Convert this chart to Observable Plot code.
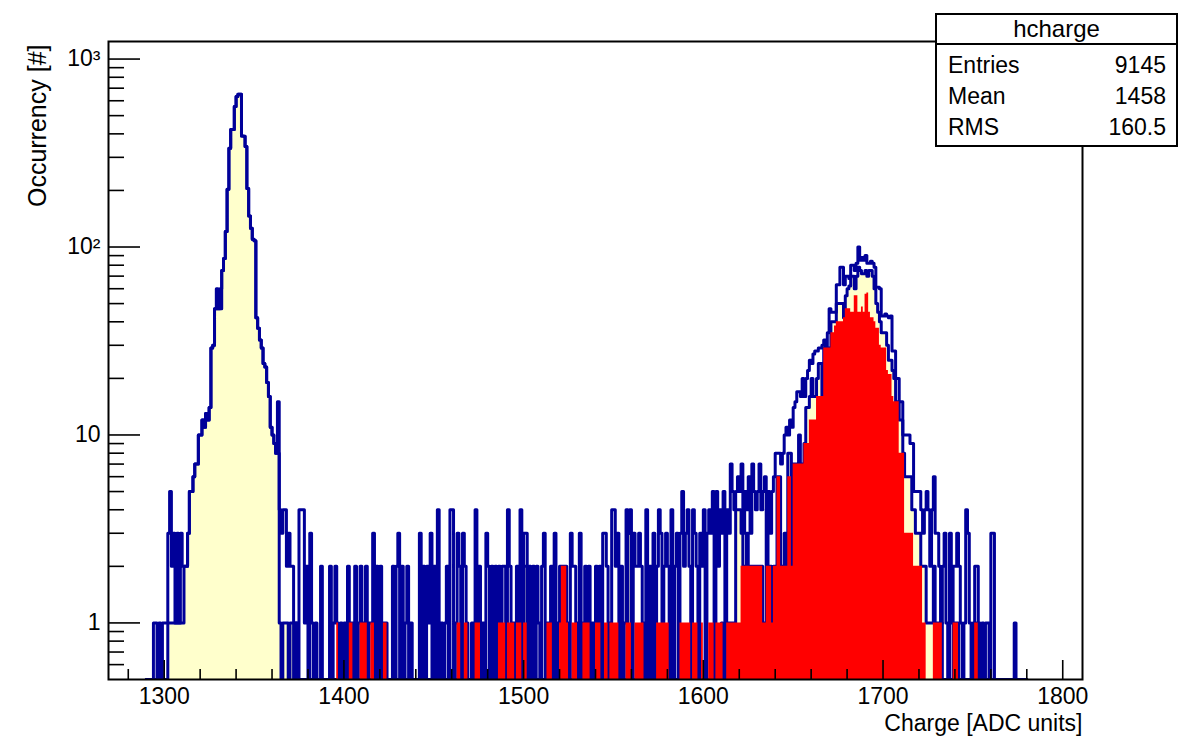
<!DOCTYPE html>
<html>
<head>
<meta charset="utf-8">
<script src="https://cdn.jsdelivr.net/npm/d3@7"></script>
<script src="https://cdn.jsdelivr.net/npm/@observablehq/plot@0.6"></script>
<style>
  html, body { margin: 0; padding: 0; background: #fff; }
  #wrap { position: relative; width: 1187px; height: 736px; overflow: hidden;
          font-family: "Liberation Sans", Arial, sans-serif; color: #000; }
  #stats { position: absolute; left: 935px; top: 13px; width: 243px; height: 134px;
           box-sizing: border-box; border: 2px solid #000; background: #fff; }
  #stats .hd { height: 28px; line-height: 28px; text-align: center; font-size: 24px;
               border-bottom: 2px solid #000; }
  #stats .rows { padding-top: 5px; }
  #stats .row { display: flex; justify-content: space-between; height: 31px; line-height: 31px;
                padding: 0 10px 0 11px; font-size: 23px; }
</style>
</head>
<body>
<div id="wrap">
  <div id="chart"></div>
  <div id="stats"></div>
</div>
<script>
// ---------------- data (1 ADC-unit bins, first bin starts at binStart) ----------------
const binStart = 1290;

// all events (blue outline, no fill)
const totalCounts = [
  0,0,0,0,1,1,0,1,0,1,            // 1290
  1,1,3,5,2,3,1,3,1,3,            // 1300
  2,2,2,3,5,5,6,7,7,10,           // 1310
  10,12,11,13,12,14,29,30,47,60,  // 1320
  47,60,75,87,121,203,335,422,422,560, // 1330
  632,650,650,390,388,343,205,146,126,110, // 1340
  108,42,37,32,29,24,23,19,16,11, // 1350
  10,9,8,15,4,3,4,4,2,3,          // 1360
  2,2,1,1,0,4,4,4,1,2,            // 1370
  0,3,1,0,1,0,0,2,0,0,            // 1380
  0,0,2,0,1,2,1,0,1,0,            // 1390
  1,0,2,1,1,0,2,0,1,2,            // 1400
  1,1,2,0,1,1,3,0,2,0,            // 1410
  2,0,1,1,0,0,0,2,0,2,            // 1420
  3,0,2,0,1,2,0,1,0,0,            // 1430
  0,0,3,0,2,0,2,1,3,0,            // 1440
  2,0,4,0,1,0,1,2,0,4,            // 1450
  4,0,1,3,2,0,3,2,1,0,            // 1460
  0,1,0,4,1,2,0,1,0,3,            // 1470
  2,0,2,0,2,0,2,1,2,2,            // 1480
  0,4,2,1,1,0,2,1,4,0,            // 1490
  3,3,0,2,0,2,0,2,1,0,            // 1500
  2,3,0,1,1,2,0,3,0,1,            // 1510
  2,2,2,2,1,0,3,2,2,1,            // 1520
  0,3,0,1,2,1,2,0,1,0,            // 1530
  2,1,2,0,3,3,2,0,1,4,            // 1540
  4,2,3,0,2,0,1,4,3,4,            // 1550
  0,3,2,2,3,2,1,0,4,0,            // 1560
  2,0,3,0,2,4,3,1,2,3,            // 1570
  2,0,4,0,2,3,0,3,5,2,            // 1580
  3,4,2,0,4,3,2,0,3,2,            // 1590
  4,0,3,4,3,5,0,5,2,4,            // 1600
  3,5,0,4,3,7,5,4,5,6,            // 1610
  5,7,3,5,4,6,3,7,5,4,            // 1620
  5,7,4,5,6,4,5,3,5,6,            // 1630
  8,8,8,7,8,10,11,10,12,11,       // 1640
  14,15,17,17,16,20,16,20,22,25,  // 1650
  24,27,28,28,29,29,30,32,29,35,  // 1660
  47,45,45,45,63,63,78,78,63,70,  // 1670
  70,68,80,80,75,82,100,85,88,85, // 1680
  90,82,82,84,82,78,61,61,60,43,  // 1690
  43,44,43,42,43,28,28,20,20,15,  // 1700
  15,10,10,10,10,9,9,5,5,5,       // 1710
  5,4,3,4,5,4,2,4,6,3,            // 1720
  3,2,1,2,3,1,0,3,1,2,            // 1730
  2,3,2,1,0,1,4,3,1,0,            // 1740
  1,2,2,1,0,1,0,1,1,0,            // 1750
  3,3,0,0,0,0,0,0,0,0,            // 1760
  0,0,0,1,0,0,0,0,0,0             // 1770
];

// yellow-filled selection
const yellowCounts = [
  0,0,0,0,0,0,0,0,0,0,            // 1290
  0,0,1,1,1,1,1,1,1,1,            // 1300
  1,2,2,3,5,5,6,7,7,10,           // 1310
  10,12,11,13,12,14,29,30,47,47,  // 1320
  47,47,75,87,121,203,335,422,422,560, // 1330
  632,650,650,390,388,343,205,146,126,110, // 1340
  108,42,37,32,29,24,23,19,16,11, // 1350
  10,9,8,8,1,0,1,1,1,0,           // 1360
  1,1,0,1,0,0,0,0,0,0,            // 1370
  0,0,0,0,0,0,0,0,0,0,            // 1380
  0,0,0,0,0,0,0,0,0,0,            // 1390
  0,0,0,0,0,0,0,0,0,0,            // 1400
  0,0,0,0,0,0,0,0,0,0,            // 1410
  0,0,0,0,0,0,0,0,0,0,            // 1420
  0,0,0,0,0,0,0,0,0,0,            // 1430
  0,0,0,0,0,0,0,0,0,0,            // 1440
  0,0,0,0,0,0,0,0,0,0,            // 1450
  0,0,0,0,0,0,0,0,0,0,            // 1460
  0,0,0,0,0,0,0,0,0,0,            // 1470
  0,0,0,0,0,0,0,0,0,0,            // 1480
  0,0,0,0,0,0,0,0,0,0,            // 1490
  2,2,0,0,0,0,0,0,0,0,            // 1500
  0,0,0,0,0,0,0,0,0,0,            // 1510
  0,0,0,0,0,0,0,0,0,0,            // 1520
  0,0,0,0,0,0,0,0,0,0,            // 1530
  0,0,0,0,0,0,0,0,0,0,            // 1540
  0,0,0,0,0,0,0,0,3,3,            // 1550
  0,0,0,0,0,0,0,0,0,0,            // 1560
  0,0,0,0,0,0,0,0,0,0,            // 1570
  0,0,0,0,0,0,0,0,0,0,            // 1580
  0,0,0,0,0,0,0,0,0,0,            // 1590
  0,0,0,0,0,0,0,0,0,0,            // 1600
  1,0,0,1,1,1,1,1,4,4,            // 1610
  4,3,2,2,3,2,2,2,2,2,            // 1620
  2,2,2,1,1,4,2,2,1,2,            // 1630
  2,6,6,2,2,3,2,8,8,2,            // 1640
  7,7,7,10,7,7,9,14,14,16,        // 1650
  20,16,16,20,24,24,16,29,29,29,  // 1660
  29,40,40,40,50,50,50,50,42,55,  // 1670
  60,62,70,70,60,70,78,75,72,72,  // 1680
  75,70,75,75,70,60,50,45,40,35,  // 1690
  35,35,30,25,25,22,20,15,15,12,  // 1700
  12,8,6,6,6,6,4,4,3,3,           // 1710
  3,2,2,2,1,1,1,1,2,1,            // 1720
  1,1,1,0,0,0,0,0,0,1,            // 1730
  1,1,0,0,0,0,0,0,0,0,            // 1740
  0,1,1,0,0,0,0,0,0,0,            // 1750
  0,0,0,0,0,0,0,0,0,0,            // 1760
  0,0,0,0,0,0,0,0,0,0             // 1770
];

// red-filled selection
const redCounts = [
  0,0,0,0,0,0,0,0,0,0,            // 1290
  0,0,0,0,0,0,0,0,0,0,            // 1300
  0,0,0,0,0,0,0,0,0,0,            // 1310
  0,0,0,0,0,0,0,0,0,0,            // 1320
  0,0,0,0,0,0,0,0,0,0,            // 1330
  0,0,0,0,0,0,0,0,0,0,            // 1340
  0,0,0,0,0,0,0,0,0,0,            // 1350
  0,0,0,0,0,0,0,0,0,0,            // 1360
  0,0,0,0,0,0,0,0,0,0,            // 1370
  0,0,0,0,0,0,0,0,0,0,            // 1380
  0,0,0,0,0,0,1,0,0,0,            // 1390
  0,0,0,1,1,0,0,0,0,1,            // 1400
  1,1,1,0,0,1,1,0,0,0,            // 1410
  0,0,1,1,0,0,0,0,0,0,            // 1420
  0,0,0,0,0,0,0,0,0,0,            // 1430
  0,0,0,0,0,0,0,0,0,0,            // 1440
  0,0,0,0,0,0,0,0,0,0,            // 1450
  0,0,0,1,1,0,0,1,1,0,            // 1460
  0,0,0,1,1,1,0,0,0,0,            // 1470
  0,0,0,0,0,0,1,1,1,1,            // 1480
  0,1,1,1,1,0,1,1,1,0,            // 1490
  1,1,0,0,0,0,0,0,0,0,            // 1500
  0,0,0,1,1,1,0,0,0,0,            // 1510
  1,2,2,2,1,0,0,1,1,1,            // 1520
  0,0,0,1,1,1,1,0,0,0,            // 1530
  1,1,1,0,0,1,1,0,1,1,            // 1540
  1,1,1,0,0,0,0,1,1,1,            // 1550
  0,0,1,1,1,1,1,0,0,0,            // 1560
  0,0,0,0,1,1,1,1,1,1,            // 1570
  1,0,0,0,0,0,0,1,1,1,            // 1580
  1,1,1,0,1,1,1,0,0,1,            // 1590
  0,0,0,1,1,1,0,1,1,1,            // 1600
  1,0,0,1,1,1,1,1,1,1,            // 1610
  1,2,2,2,2,2,2,2,2,2,            // 1620
  2,2,2,1,1,2,2,2,1,2,            // 1630
  2,6,6,2,2,2,2,6,6,2,            // 1640
  7,7,7,7,7,7,9,9,9,12,           // 1650
  12,12,12,16,16,16,16,29,29,29,  // 1660
  29,35,35,38,40,40,40,40,42,47,  // 1670
  47,47,45,45,55,55,45,45,48,45,  // 1680
  56,57,45,42,42,40,37,37,30,29,  // 1690
  29,29,22,21,21,16,15,15,15,8,   // 1700
  8,8,3,3,3,3,3,2,2,2,            // 1710
  2,2,1,1,0,0,0,0,1,1,            // 1720
  1,1,1,0,0,0,0,0,0,1,            // 1730
  1,1,0,0,0,0,0,0,0,0,            // 1740
  0,1,1,0,0,0,0,0,0,0,            // 1750
  0,0,0,0,0,0,0,0,0,0,            // 1760
  0,0,0,0,0,0,0,0,0,0             // 1770
];

// axes
const xMajorTicks = [1300, 1400, 1500, 1600, 1700, 1800];
const xMinorTicks = [1280, 1320, 1340, 1360, 1380, 1420, 1440, 1460, 1480, 1520, 1540, 1560, 1580,
                     1620, 1640, 1660, 1680, 1720, 1740, 1760, 1780];
const yMajorTicks = [1, 10, 100, 1000];
const yTickLabels = ["1", "10", "10\u00b2", "10\u00b3"];
const yMinorTicks = [0.6, 0.7, 0.8, 0.9, 2, 3, 4, 5, 6, 7, 8, 9,
                     20, 30, 40, 50, 60, 70, 80, 90, 200, 300, 400, 500, 600, 700, 800, 900];
const xDomain = [1269, 1811];
const yDomain = [0.5, 1240];
const xTitle = "Charge [ADC units]";
const yTitle = "Occurrency [#]";

// stats box
const statsTitle = "hcharge";
const statsLabels = ["Entries", "Mean", "RMS"];
const statsValues = ["9145", "1458", "160.5"];

// ---------------- build ----------------
const W = 1187, H = 736;
const mL = 108, mR = 105, mT = 41, mB = 57;
const innerW = W - mL - mR, innerH = H - mT - mB;
const yFloor = yDomain[0];
const n = totalCounts.length;

// step series: empty bins are drawn on the frame floor (ROOT convention for log axes)
function steps(counts) {
  const pts = counts.map((c, i) => ({x: binStart + i, y: Math.max(c, yFloor)}));
  pts.push({x: binStart + n, y: Math.max(counts[n - 1], yFloor)});
  return pts;
}
const totalSteps = steps(totalCounts);
const yellowSteps = steps(yellowCounts);
const redSteps = steps(redCounts);

const blue = "#000099";
const lw = 3;

const chart = Plot.plot({
  width: W, height: H,
  marginLeft: mL, marginRight: mR, marginTop: mT, marginBottom: mB,
  style: {fontFamily: '"Liberation Sans", Arial, sans-serif', fontSize: "23px", color: "#000", background: "#fff"},
  x: {domain: xDomain, ticks: xMajorTicks, tickSize: 0, tickPadding: 8, tickFormat: d => String(d), label: null},
  y: {type: "log", domain: yDomain, ticks: yMajorTicks, tickSize: 0, tickPadding: 8,
      tickFormat: d => yTickLabels[yMajorTicks.indexOf(d)], label: null},
  marks: [
    Plot.areaY(yellowSteps, {x: "x", y1: yFloor, y2: "y", curve: "step-after", fill: "#ffffcc", clip: true}),
    Plot.line(yellowSteps, {x: "x", y: "y", curve: "step-after", stroke: blue, strokeWidth: lw, clip: true}),
    Plot.line(totalSteps, {x: "x", y: "y", curve: "step-after", stroke: blue, strokeWidth: lw, clip: true}),
    Plot.areaY(redSteps, {x: "x", y1: yFloor, y2: "y", curve: "step-after", fill: "#ff0000", clip: true}),
    Plot.tickX(xMajorTicks, {x: d => d, insetTop: innerH - 19, stroke: "#000", strokeWidth: 1.6}),
    Plot.tickX(xMinorTicks, {x: d => d, insetTop: innerH - 10, stroke: "#000", strokeWidth: 1.6}),
    Plot.tickY(yMajorTicks, {y: d => d, insetRight: innerW - 32, stroke: "#000", strokeWidth: 1.6}),
    Plot.tickY(yMinorTicks, {y: d => d, insetRight: innerW - 16, stroke: "#000", strokeWidth: 1.6}),
    Plot.frame({stroke: "#000", strokeWidth: 2}),
    Plot.text([xTitle], {text: d => d, frameAnchor: "bottom-right", textAnchor: "end", lineAnchor: "bottom",
                         dy: 51, fontSize: 23, fill: "#000"}),
    Plot.text([yTitle], {text: d => d, frameAnchor: "top-left", textAnchor: "end", lineAnchor: "middle",
                         rotate: -90, dx: -71, dy: 3, fontSize: 25, fill: "#000"})
  ]
});
document.getElementById("chart").appendChild(chart);

// stats box
const stats = document.getElementById("stats");
const hd = document.createElement("div");
hd.className = "hd";
hd.textContent = statsTitle;
stats.appendChild(hd);
const rows = document.createElement("div");
rows.className = "rows";
statsLabels.forEach((lab, i) => {
  const r = document.createElement("div");
  r.className = "row";
  const a = document.createElement("span"); a.textContent = lab;
  const b = document.createElement("span"); b.textContent = statsValues[i];
  r.appendChild(a); r.appendChild(b);
  rows.appendChild(r);
});
stats.appendChild(rows);
</script>
</body>
</html>
